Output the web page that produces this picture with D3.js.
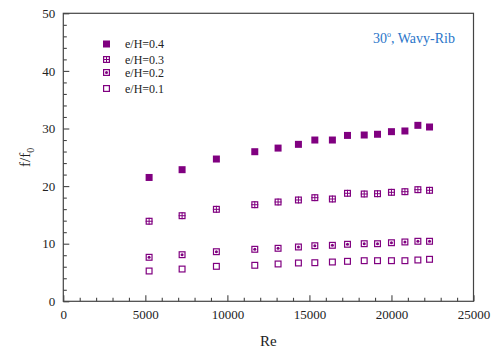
<!DOCTYPE html>
<html>
<head>
<meta charset="utf-8">
<script src="https://cdn.jsdelivr.net/npm/d3@7"></script>
<style>
  body { margin: 0; background: #fff; }
  svg text { font-family: "Liberation Serif", "DejaVu Serif", serif; }
</style>
</head>
<body>
<div class="chart"></div>
<script>
const reValues = [5230, 7240, 9330, 11670, 13090, 14330, 15330, 16400, 17320, 18340, 19150, 20000, 20820, 21610, 22320];
const eh04 = [21.5, 22.85, 24.7, 25.97, 26.6, 27.25, 28.0, 28.0, 28.8, 28.87, 29.0, 29.45, 29.57, 30.55, 30.26];
const eh03 = [13.9, 14.86, 15.97, 16.77, 17.24, 17.59, 17.99, 17.76, 18.75, 18.63, 18.68, 18.92, 19.03, 19.38, 19.27];
const eh02 = [7.64, 8.09, 8.61, 9.03, 9.2, 9.43, 9.65, 9.72, 9.9, 10.0, 10.0, 10.17, 10.3, 10.42, 10.42];
const eh01 = [5.26, 5.6, 6.07, 6.25, 6.48, 6.65, 6.7, 6.82, 6.94, 7.05, 7.05, 7.05, 7.05, 7.17, 7.29];
const seriesNames = ["e/H=0.4", "e/H=0.3", "e/H=0.2", "e/H=0.1"];
const markerKinds = ["filled", "cross", "dot", "open"];
const xTicks = [0, 5000, 10000, 15000, 20000, 25000];
const yTicks = [0, 10, 20, 30, 40, 50];

const width = 493, height = 351;
const margin = { top: 13.3, right: 19.5, bottom: 49.7, left: 63.3 };
const color = "#800080";
const axisColor = "#444";
const serif = "'Liberation Serif', 'DejaVu Serif', serif";

const seriesList = [eh04, eh03, eh02, eh01].map((vals, i) => ({
    name: seriesNames[i],
    kind: markerKinds[i],
    points: vals.map((v, j) => ({ re: reValues[j], f: v }))
}));

const svg = d3.select(".chart").append("svg")
    .attr("width", width)
    .attr("height", height);

const x = d3.scaleLinear().domain([0, 25000]).range([margin.left, width - margin.right]);
const y = d3.scaleLinear().domain([0, 50]).range([height - margin.bottom, margin.top]);

// frame
svg.append("rect")
    .attr("x", x(0)).attr("y", y(50))
    .attr("width", x(25000) - x(0)).attr("height", y(0) - y(50))
    .attr("fill", "none").attr("stroke", axisColor).attr("stroke-width", 1.2);

// ticks (inside)
const xMinor = d3.range(0, 25001, 1000).filter(d => d % 5000 !== 0);
const yMinor = d3.range(0, 51, 2).filter(d => d % 10 !== 0);

svg.append("g").attr("transform", `translate(0,${y(0)})`)
    .call(d3.axisBottom(x).tickValues(xTicks).tickSizeInner(-6).tickSizeOuter(0).tickPadding(8).tickFormat(d3.format("d")));
svg.append("g").attr("transform", `translate(0,${y(0)})`)
    .call(d3.axisBottom(x).tickValues(xMinor).tickSize(-3.5).tickFormat(""));
svg.append("g").attr("transform", `translate(${x(0)},0)`)
    .call(d3.axisLeft(y).tickValues(yTicks).tickSizeInner(-6).tickSizeOuter(0).tickPadding(8));
svg.append("g").attr("transform", `translate(${x(0)},0)`)
    .call(d3.axisLeft(y).tickValues(yMinor).tickSize(-3.5).tickFormat(""));

svg.selectAll(".domain").remove();
svg.selectAll(".tick line").attr("stroke", axisColor).attr("stroke-width", 1.1);
svg.selectAll(".tick text").attr("fill", "#222").attr("font-size", 13)
    .style("font-family", serif);

// axis titles
svg.append("text")
    .attr("x", (x(0) + x(25000)) / 2).attr("y", 346)
    .attr("text-anchor", "middle").attr("font-size", 15).attr("fill", "#222")
    .text("Re");

const yLabel = svg.append("text")
    .attr("transform", `translate(30,${(y(0) + y(50)) / 2}) rotate(-90)`)
    .attr("text-anchor", "middle").attr("font-size", 15).attr("fill", "#222");
yLabel.append("tspan").text("f/f");
yLabel.append("tspan").attr("font-size", 10).attr("dy", 4).text("0");

// markers
const s = 7;
function drawMarker(g, kind) {
    if (kind === "filled") {
        g.append("rect").attr("x", -s / 2).attr("y", -s / 2).attr("width", s).attr("height", s)
            .attr("fill", color);
        return;
    }
    g.append("rect").attr("x", -s / 2 + 0.6).attr("y", -s / 2 + 0.6)
        .attr("width", s - 1.2).attr("height", s - 1.2)
        .attr("fill", "none").attr("stroke", color).attr("stroke-width", 1.2);
    if (kind === "cross") {
        g.append("line").attr("x1", 0).attr("x2", 0).attr("y1", -s / 2).attr("y2", s / 2)
            .attr("stroke", color).attr("stroke-width", 1);
        g.append("line").attr("y1", 0).attr("y2", 0).attr("x1", -s / 2).attr("x2", s / 2)
            .attr("stroke", color).attr("stroke-width", 1);
    }
    if (kind === "dot") {
        g.append("circle").attr("r", 1.5).attr("fill", color);
    }
}

seriesList.forEach(series => {
    svg.append("g")
        .selectAll("g")
        .data(series.points)
        .join("g")
        .attr("transform", d => `translate(${x(d.re)},${y(d.f)})`)
        .each(function () { drawMarker(d3.select(this), series.kind); });
});

// legend
const legendY = [44, 59.5, 72.5, 88.5];
seriesList.forEach((series, i) => {
    const g = svg.append("g").attr("transform", `translate(106.5,${legendY[i]})`);
    drawMarker(g, series.kind);
    svg.append("text")
        .attr("x", 125).attr("y", legendY[i] + 4)
        .attr("font-size", 12).attr("fill", "#222")
        .text(series.name);
});

// annotation
const note = svg.append("text")
    .attr("x", 373).attr("y", 43)
    .attr("font-size", 14).attr("fill", "#2a75c9");
note.append("tspan").text("30");
note.append("tspan").attr("font-size", 8).attr("dy", -6).text("o");
note.append("tspan").attr("dy", 6).text(", Wavy-Rib");
</script>
</body>
</html>
